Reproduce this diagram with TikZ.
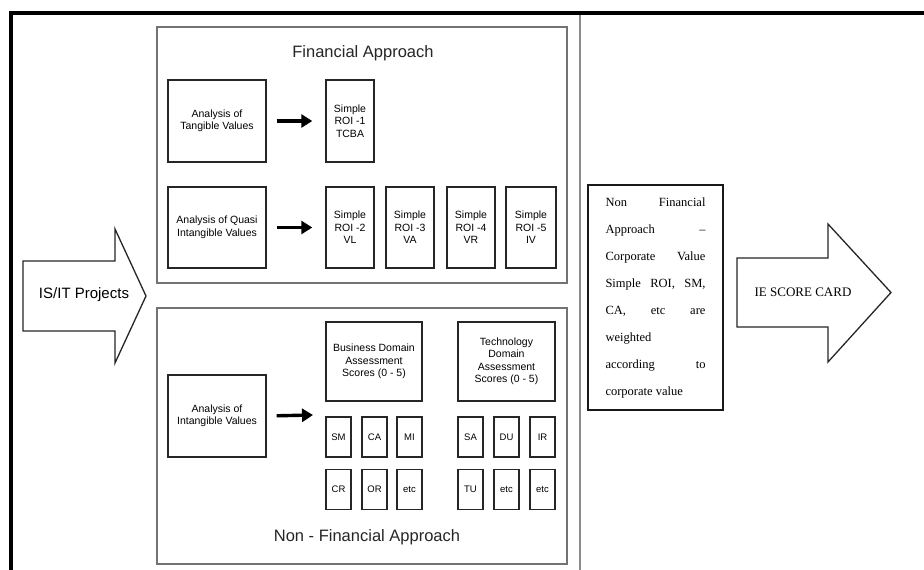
\documentclass[tikz,border=0pt]{standalone}
\usepackage{fontspec}
\setmainfont{Liberation Serif}
\newfontfamily\arialfont{Liberation Sans}
\usetikzlibrary{arrows.meta}
\begin{document}
\begin{tikzpicture}[x=1pt,y=-1pt,
  frame/.style={line width=4pt,black},
  divider/.style={line width=1.2pt,black!45},
  panel/.style={draw=black!55,line width=1.2pt},
  box/.style={draw=black!85,line width=1.4pt,fill=white,inner sep=0pt,
    align=center,font=\arialfont\fontsize{10.5}{12.5}\selectfont},
  tag/.style={box,minimum width=25pt,minimum height=40pt,
    font=\arialfont\fontsize{9.5}{11}\selectfont},
  bigarrow/.style={line width=3.4pt,-{Triangle[length=11pt,width=13pt]}},
  fatarrow/.style={line width=1.3pt,black!85,fill=white,line join=miter},
  heading/.style={font=\arialfont\fontsize{16.5}{18}\selectfont,text=black!85},
]
\useasboundingbox (0,0) rectangle (924,570);
\fill[white] (0,0) rectangle (924,570);

% outer frame and divider
\draw[frame] (9,13) -- (924,13);
\draw[frame] (11,11) -- (11,570);
\draw[divider] (580,15) -- (580,570);

% input arrow
\draw[fatarrow] (23,261) -- (115,261) -- (115,229) -- (146,296) -- (115,363)
  -- (115,331) -- (23,331) -- cycle;
\node[font=\arialfont\fontsize{15}{17}\selectfont] (isit) at (84,295) {IS/IT Projects};

% financial approach panel
\node[panel,minimum width=410pt,minimum height=256pt] (fin) at (362,155) {};
\node[heading] (fintitle) at (363,53) {Financial Approach};
\node[box,minimum width=98pt,minimum height=82pt] (tang) at (217,121)
  {Analysis of\\Tangible Values};
\node[box,minimum width=48pt,minimum height=82pt] (roi1) at (350,121)
  {Simple\\ROI -1\\TCBA};
\node[box,minimum width=98pt,minimum height=81pt] (quasi) at (217,227.5)
  {Analysis of Quasi\\Intangible Values};
\node[box,minimum width=48pt,minimum height=81pt] (roi2) at (350,227.5)
  {Simple\\ROI -2\\VL};
\node[box,minimum width=48pt,minimum height=81pt] (roi3) at (410,227.5)
  {Simple\\ROI -3\\VA};
\node[box,minimum width=48pt,minimum height=81pt] (roi4) at (471,227.5)
  {Simple\\ROI -4\\VR};
\node[box,minimum width=50pt,minimum height=81pt] (roi5) at (531,227.5)
  {Simple\\ROI -5\\IV};
\draw[bigarrow,shorten <=10pt,shorten >=13pt] (tang) -- (roi1);
\draw[bigarrow,shorten <=10pt,shorten >=13pt] (quasi) -- (roi2);

% non-financial approach panel
\node[panel,minimum width=410pt,minimum height=256pt] (nonfin) at (362,436) {};
\node[heading] (nonfintitle) at (367,537) {Non - Financial Approach};
\node[box,minimum width=98pt,minimum height=82pt] (intang) at (217,416)
  {Analysis of\\Intangible Values};
\node[box,minimum width=96pt,minimum height=79pt] (bus) at (374,361.5)
  {Business Domain\\Assessment\\Scores (0 - 5)};
\node[box,minimum width=97pt,minimum height=79pt] (tech) at (506.5,361.5)
  {Technology\\Domain\\Assessment\\Scores (0 - 5)};
\coordinate (intangend) at (313,415);
\draw[bigarrow,shorten <=10pt] (intang.east) -- (intangend);

\node[tag] (sm) at (338.5,437) {SM};
\node[tag] (ca) at (374.5,437) {CA};
\node[tag] (mi) at (409.5,437) {MI};
\node[tag] (cr) at (338.5,489.5) {CR};
\node[tag] (or) at (374.5,489.5) {OR};
\node[tag] (etc1) at (409.5,489.5) {etc};
\node[tag] (sa) at (470.5,437) {SA};
\node[tag] (du) at (506.5,437) {DU};
\node[tag] (ir) at (542.5,437) {IR};
\node[tag] (tu) at (470.5,489.5) {TU};
\node[tag] (etc2) at (506.5,489.5) {etc};
\node[tag] (etc3) at (542.5,489.5) {etc};

% weighting note
\node[draw=black!90,line width=1.1pt,minimum width=135pt,minimum height=225pt,
  text width=100pt,align=justify,inner sep=0pt,
  font=\fontsize{12.5}{27}\selectfont] (note) at (655.5,297.5)
  {Non Financial\linebreak Approach –\linebreak Corporate Value\linebreak
   Simple ROI, SM,\linebreak CA, etc are\linebreak weighted\newline
   according to\linebreak corporate value\par};

% output arrow
\draw[fatarrow] (737,258) -- (828,258) -- (828,224) -- (891,292.5) -- (828,362)
  -- (828,327) -- (737,327) -- cycle;
\node[font=\fontsize{13}{15}\selectfont] (ie) at (803,292.5) {IE SCORE CARD};
\end{tikzpicture}
\end{document}
